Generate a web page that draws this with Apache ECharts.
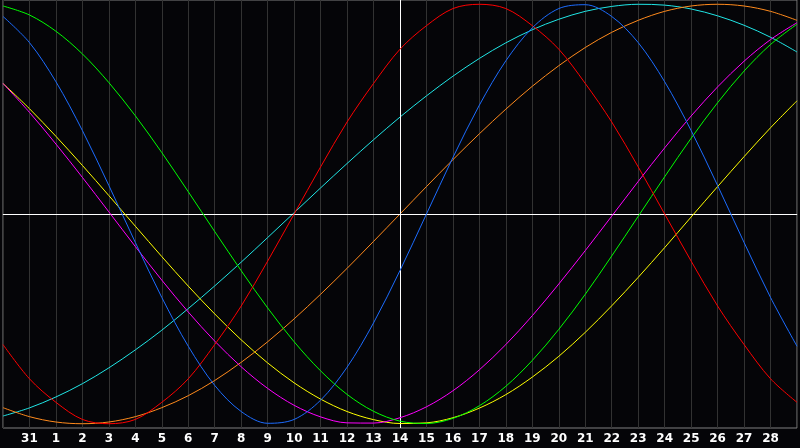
<!DOCTYPE html>
<html>
<head>
<meta charset="utf-8">
<script src="https://cdn.jsdelivr.net/npm/echarts@6/dist/echarts.min.js"></script>
<style>
html,body{margin:0;padding:0;background:#050508;}
#chart{width:800px;height:448px;}
</style>
</head>
<body>
<div id="chart"></div>
<script>
// Day labels (Jan 30 .. Mar 1); first and last are not labelled
var days = ['30','31','1','2','3','4','5','6','7','8','9','10','11','12','13','14','15','16','17','18','19','20','21','22','23','24','25','26','27','28','1'];
var todayLabel = '14';

var red = [-0.61,-0.77,-0.88,-0.96,-0.98,-0.96,-0.88,-0.77,-0.61,-0.43,-0.22,0,0.22,0.43,0.61,0.77,0.88,0.96,0.98,0.96,0.88,0.77,0.61,0.43,0.22,0,-0.22,-0.43,-0.61,-0.77,-0.88];
var blue = [0.923,0.801,0.618,0.390,0.133,-0.133,-0.390,-0.618,-0.801,-0.923,-0.978,-0.960,-0.870,-0.716,-0.509,-0.264,0,0.264,0.509,0.716,0.870,0.960,0.978,0.923,0.801,0.618,0.390,0.133,-0.133,-0.390,-0.618];
var green = [0.972,0.930,0.854,0.748,0.614,0.459,0.287,0.104,-0.082,-0.265,-0.439,-0.597,-0.733,-0.843,-0.922,-0.968,-0.979,-0.955,-0.896,-0.805,-0.684,-0.539,-0.375,-0.196,-0.011,0.174,0.354,0.520,0.668,0.792,0.887];
var cyan = [-0.944,-0.906,-0.855,-0.793,-0.719,-0.635,-0.543,-0.442,-0.336,-0.225,-0.110,0.006,0.122,0.236,0.347,0.453,0.552,0.644,0.727,0.800,0.861,0.910,0.947,0.970,0.980,0.976,0.958,0.926,0.882,0.826,0.757];
var orange = [-0.905,-0.947,-0.972,-0.98,-0.972,-0.947,-0.905,-0.849,-0.778,-0.693,-0.597,-0.49,-0.375,-0.254,-0.128,0,0.128,0.254,0.375,0.49,0.597,0.693,0.778,0.849,0.905,0.947,0.972,0.98,0.972,0.947,0.905];
var yellow = [0.610,0.492,0.363,0.227,0.086,-0.057,-0.199,-0.337,-0.467,-0.588,-0.696,-0.789,-0.865,-0.923,-0.961,-0.979,-0.976,-0.952,-0.907,-0.844,-0.762,-0.665,-0.553,-0.429,-0.296,-0.157,-0.014,0.128,0.268,0.403,0.529];
var magenta = [0.610,0.475,0.327,0.171,0.010,-0.152,-0.309,-0.458,-0.594,-0.714,-0.815,-0.894,-0.948,-0.976,-0.977,-0.952,-0.901,-0.826,-0.728,-0.610,-0.475,-0.327,-0.171,-0.010,0.152,0.309,0.458,0.594,0.714,0.815,0.894];

var seriesDefs = [
  {name:'cyan', data:cyan, color:'#20e6e6'},
  {name:'orange', data:orange, color:'#ff8a1c'},
  {name:'yellow', data:yellow, color:'#ffff00'},
  {name:'magenta', data:magenta, color:'#ff00ff'},
  {name:'green', data:green, color:'#00ff00'},
  {name:'red', data:red, color:'#ff0000'},
  {name:'blue', data:blue, color:'#1c6cff'}
];

var chart = echarts.init(document.getElementById('chart'), null, {renderer:'canvas'});
var series = seriesDefs.map(function(s, k){
  return {
    name: s.name, type:'line', data: s.data, smooth: 0.33, symbol:'none',
    lineStyle:{color:s.color, width:1}, itemStyle:{color:s.color},
    animation:false, silent:true, z: 3 + k
  };
});
series.push({
  type:'line', data: [], silent:true, animation:false, z:2,
  markLine:{
    silent:true, symbol:['none','none'], label:{show:false}, animation:false,
    lineStyle:{color:'#ffffff', width:1, type:'solid'},
    data:[{xAxis: todayLabel}, {yAxis: 0}]
  }
});

chart.setOption({
  backgroundColor:'#050508',
  animation:false,
  grid:{left:0, right:0, top:0, bottom:20, show:true, borderColor:'#808080', borderWidth:1, backgroundColor:'#050508'},
  xAxis:{
    type:'category', data:days, boundaryGap:false,
    axisLine:{show:true, lineStyle:{color:'#808080'}},
    axisTick:{show:false},
    axisLabel:{
      interval:0, color:'#ffffff', fontWeight:'bold', fontSize:12,
      fontFamily:'DejaVu Sans', margin:5,
      formatter:function(v, idx){ return (idx===0 || idx===days.length-1) ? '' : v; }
    },
    splitLine:{show:true, interval:0, lineStyle:{color:'#323232', width:1}}
  },
  yAxis:{
    type:'value', min:-1, max:1,
    axisLine:{show:false}, axisTick:{show:false}, axisLabel:{show:false},
    splitLine:{show:false}
  },
  series: series
});
</script>
</body>
</html>
